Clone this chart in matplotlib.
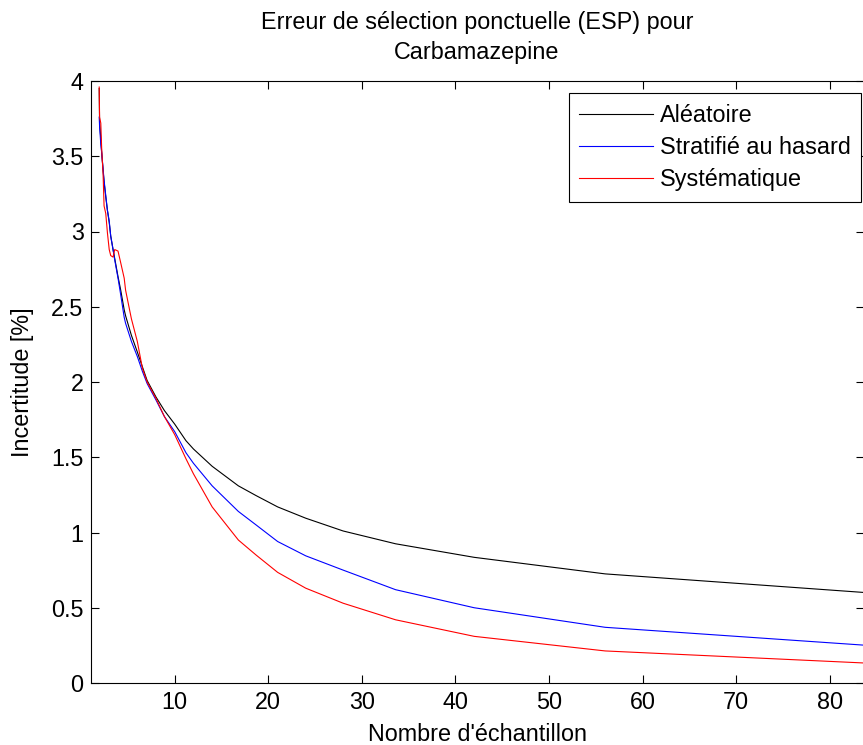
import matplotlib
matplotlib.use("Agg")
import matplotlib.pyplot as plt

# échantillonnage (nombre d'échantillons)
n_ech = [1.93, 1.97, 2.1, 2.2, 2.34, 2.45, 2.63, 2.81, 3.0, 3.16, 3.41, 3.59,
         3.94, 4.2, 4.6, 4.75, 5.37, 6.0, 6.55, 7.05, 8.0, 8.9, 10.0, 11.2,
         12.0, 14.0, 16.8, 18.7, 21.0, 24.0, 28.0, 33.6, 42.0, 56.0, 84.0]

aleatoire = [3.95, 3.72, 3.62, 3.52, 3.41, 3.33, 3.23, 3.14, 3.06, 2.97, 2.88, 2.82,
             2.70, 2.62, 2.48, 2.44, 2.31, 2.20, 2.10, 2.01, 1.90, 1.81, 1.72, 1.61,
             1.555, 1.44, 1.31, 1.245, 1.17, 1.095, 1.01, 0.925, 0.835, 0.725, 0.60]

stratifie = [3.76, 3.70, 3.58, 3.52, 3.42, 3.34, 3.24, 3.14, 3.07, 2.97, 2.88, 2.81,
             2.69, 2.59, 2.43, 2.39, 2.27, 2.17, 2.07, 1.99, 1.88, 1.77, 1.67, 1.53,
             1.46, 1.31, 1.14, 1.05, 0.94, 0.845, 0.75, 0.62, 0.50, 0.37, 0.25]

systematique = [3.96, 3.76, 3.72, 3.54, 3.39, 3.17, 3.12, 2.99, 2.88, 2.84, 2.83, 2.88,
                2.87, 2.80, 2.69, 2.61, 2.42, 2.27, 2.09, 2.00, 1.89, 1.77, 1.65, 1.49,
                1.39, 1.17, 0.95, 0.85, 0.735, 0.63, 0.53, 0.42, 0.31, 0.213, 0.132]

x_ticks = [10, 20, 30, 40, 50, 60, 70, 80]
y_ticks = [0, 0.5, 1, 1.5, 2, 2.5, 3, 3.5, 4]
y_tick_labels = ["0", "0.5", "1", "1.5", "2", "2.5", "3", "3.5", "4"]

plt.rcParams["font.family"] = ["Liberation Sans", "DejaVu Sans"]
FS = 16.8

W, H = 863, 745
fig = plt.figure(figsize=(W / 100, H / 100), dpi=100)
ax = fig.add_axes([90.5 / W, 62 / H, 773 / W, 602 / H])

ax.plot(n_ech, aleatoire, color="black", lw=0.8, label="Aléatoire")
ax.plot(n_ech, stratifie, color="blue", lw=0.8, label="Stratifié au hasard")
ax.plot(n_ech, systematique, color="red", lw=0.8, label="Systématique")

ax.set_xlim(1, 83.6)
ax.set_ylim(0, 4)
ax.set_xticks(x_ticks)
ax.set_yticks(y_ticks)
ax.set_yticklabels(y_tick_labels)
ax.tick_params(direction="in", length=5.5, width=0.8, top=True, right=True,
               labelsize=FS)
ax.tick_params(axis="x", pad=6)
ax.tick_params(axis="y", pad=5)
for sp in ax.spines.values():
    sp.set_linewidth(0.8)

ax.set_title("Erreur de sélection ponctuelle (ESP) pour\nCarbamazepine",
             fontsize=FS, pad=16, linespacing=1.4)
ax.set_xlabel("Nombre d'échantillon", fontsize=FS, labelpad=6)
ax.set_ylabel("Incertitude [%]", fontsize=FS, labelpad=12)

leg = ax.legend(loc="upper right", bbox_to_anchor=(0.9968, 0.9796), fontsize=FS,
                fancybox=False, framealpha=1, edgecolor="black",
                handlelength=3.15, handletextpad=0.3, borderpad=0.45,
                labelspacing=0.4, borderaxespad=0)
leg.get_frame().set_linewidth(0.8)

fig.savefig("out.png", dpi=100)
